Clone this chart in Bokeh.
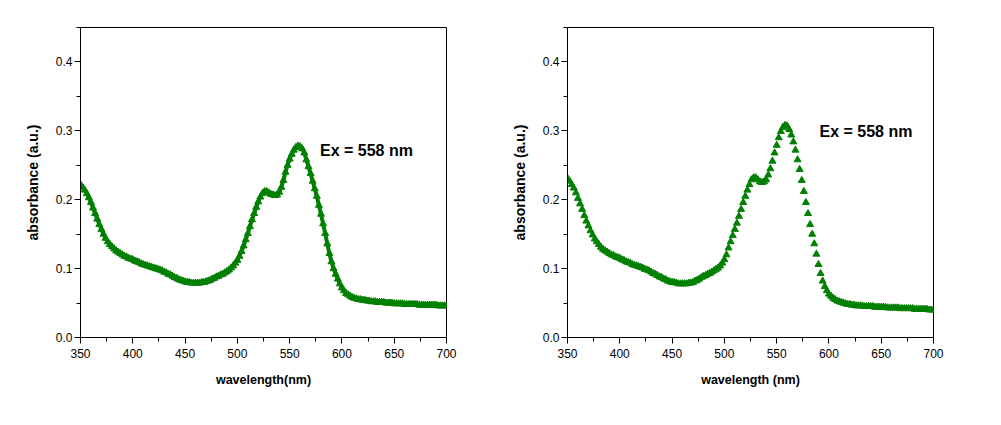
from bokeh.plotting import figure
from bokeh.layouts import row
from bokeh.models import Range1d, Label, SingleIntervalTicker, NumeralTickFormatter
from bokeh.embed import file_html
from bokeh.resources import INLINE

wavelength = list(range(350, 701, 2))

absorbance_left = [
    0.222, 0.218, 0.214, 0.209, 0.203, 0.196, 0.188, 0.180, 0.172, 0.164,
    0.157, 0.150, 0.144, 0.139, 0.135, 0.132, 0.129, 0.126, 0.124, 0.122,
    0.120, 0.118, 0.117, 0.115, 0.114, 0.113, 0.111, 0.110, 0.109, 0.107,
    0.106, 0.105, 0.104, 0.103, 0.102, 0.101, 0.100, 0.099, 0.098, 0.097,
    0.095, 0.094, 0.092, 0.091, 0.089, 0.087, 0.086, 0.084, 0.083, 0.082,
    0.081, 0.080, 0.080, 0.079, 0.079, 0.079, 0.079, 0.079, 0.080, 0.080,
    0.081, 0.082, 0.083, 0.085, 0.086, 0.088, 0.089, 0.091, 0.092, 0.094,
    0.096, 0.098, 0.101, 0.104, 0.108, 0.112, 0.118, 0.125, 0.133, 0.142,
    0.151, 0.161, 0.171, 0.180, 0.189, 0.197, 0.204, 0.209, 0.212, 0.212,
    0.210, 0.208, 0.207, 0.206, 0.207, 0.211, 0.218, 0.228, 0.240, 0.250,
    0.259, 0.266, 0.272, 0.276, 0.278, 0.277, 0.274, 0.268, 0.258, 0.248,
    0.238, 0.227, 0.216, 0.205, 0.192, 0.179, 0.165, 0.151, 0.136, 0.122,
    0.110, 0.100, 0.092, 0.085, 0.078, 0.072, 0.068, 0.064, 0.062, 0.060,
    0.058, 0.057, 0.056, 0.055, 0.055, 0.054, 0.054, 0.053, 0.053, 0.052,
    0.052, 0.052, 0.051, 0.051, 0.051, 0.051, 0.050, 0.050, 0.050, 0.050,
    0.049, 0.049, 0.049, 0.049, 0.049, 0.048, 0.048, 0.048, 0.048, 0.048,
    0.048, 0.048, 0.047, 0.047, 0.047, 0.047, 0.047, 0.047, 0.047, 0.047,
    0.047, 0.046, 0.046, 0.046, 0.046, 0.046,
]

absorbance_right = [
    0.231, 0.227, 0.222, 0.217, 0.210, 0.202, 0.194, 0.186, 0.177, 0.169,
    0.162, 0.155, 0.149, 0.143, 0.139, 0.135, 0.131, 0.128, 0.126, 0.124,
    0.122, 0.120, 0.119, 0.117, 0.116, 0.115, 0.113, 0.112, 0.110, 0.109,
    0.108, 0.106, 0.105, 0.104, 0.103, 0.102, 0.101, 0.099, 0.098, 0.097,
    0.095, 0.093, 0.092, 0.090, 0.088, 0.087, 0.085, 0.084, 0.082, 0.081,
    0.080, 0.080, 0.079, 0.078, 0.078, 0.078, 0.078, 0.078, 0.079, 0.079,
    0.080, 0.082, 0.083, 0.085, 0.087, 0.089, 0.090, 0.092, 0.093, 0.095,
    0.097, 0.099, 0.101, 0.104, 0.108, 0.113, 0.120, 0.130, 0.139, 0.148,
    0.157, 0.166, 0.176, 0.186, 0.196, 0.205, 0.214, 0.222, 0.229, 0.232,
    0.232, 0.229, 0.226, 0.225, 0.226, 0.229, 0.236, 0.245, 0.256, 0.268,
    0.279, 0.290, 0.299, 0.305, 0.308, 0.307, 0.302, 0.294, 0.284, 0.272,
    0.258, 0.244, 0.228, 0.212, 0.196, 0.180, 0.164, 0.150, 0.136, 0.121,
    0.106, 0.093, 0.082, 0.074, 0.068, 0.063, 0.060, 0.057, 0.055, 0.053,
    0.052, 0.051, 0.050, 0.049, 0.048, 0.048, 0.047, 0.047, 0.046, 0.046,
    0.046, 0.046, 0.045, 0.045, 0.045, 0.045, 0.045, 0.044, 0.044, 0.044,
    0.044, 0.044, 0.044, 0.043, 0.043, 0.043, 0.043, 0.043, 0.043, 0.042,
    0.042, 0.042, 0.042, 0.042, 0.042, 0.042, 0.041, 0.041, 0.041, 0.041,
    0.041, 0.041, 0.041, 0.040, 0.040, 0.040,
]

x_labels = ["wavelength(nm)", "wavelength (nm)"]
y_label = "absorbance (a.u.)"
annotation = "Ex = 558 nm"
annotation_pos = [(579, 0.271), (591, 0.299)]

GREEN = "#008000"
FONT = "Liberation Sans"


def make(absorb, xlabel, ann, left_border, right_border, joined):
    p = figure(frame_width=366, frame_height=310,
               x_range=Range1d(350, 700), y_range=Range1d(0, 0.45),
               output_backend="svg", toolbar_location=None,
               min_border_left=left_border, min_border_right=right_border,
               min_border_top=27, min_border_bottom=60)
    p.xgrid.visible = False
    p.ygrid.visible = False
    p.outline_line_color = "black"
    p.outline_line_width = 1
    p.background_fill_color = "white"
    p.border_fill_color = "white"

    p.xaxis.ticker = SingleIntervalTicker(interval=50, num_minor_ticks=2)
    p.yaxis.ticker = SingleIntervalTicker(interval=0.1, num_minor_ticks=2)
    p.yaxis.formatter = NumeralTickFormatter(format="0.0")
    for ax in (p.xaxis, p.yaxis):
        ax.axis_line_color = "black"
        ax.major_tick_line_color = "black"
        ax.minor_tick_line_color = "black"
        ax.major_tick_in = 0
        ax.minor_tick_in = 0
        ax.major_tick_out = 6
        ax.minor_tick_out = 4
        ax.major_label_text_font = FONT
        ax.major_label_text_font_size = "12px"
        ax.major_label_text_color = "black"
        ax.axis_label_text_font = FONT
        ax.axis_label_text_font_style = "bold"
        ax.axis_label_text_color = "black"
    p.xaxis.major_label_standoff = 5
    p.yaxis.major_label_standoff = 2
    p.xaxis.axis_label = xlabel
    p.yaxis.axis_label = y_label
    p.xaxis.axis_label_text_font_size = "12.5px"
    p.yaxis.axis_label_text_font_size = "14px"
    p.xaxis.axis_label_standoff = 12
    p.yaxis.axis_label_standoff = 12

    if joined:
        p.line(wavelength, absorb, line_color=GREEN, line_width=4)
    p.scatter(wavelength, absorb, marker="triangle", size=7,
              fill_color=GREEN, line_color=GREEN)

    p.add_layout(Label(x=ann[0], y=ann[1], text=annotation,
                       text_font=FONT, text_font_style="bold",
                       text_font_size="16px", text_color="black",
                       text_baseline="alphabetic"))
    return p


p1 = make(absorbance_left, x_labels[0], annotation_pos[0], 80, 40, True)
p2 = make(absorbance_right, x_labels[1], annotation_pos[1], 81, 50, False)
layout = row(p1, p2)

open("out.html", "w").write(file_html(layout, INLINE))
